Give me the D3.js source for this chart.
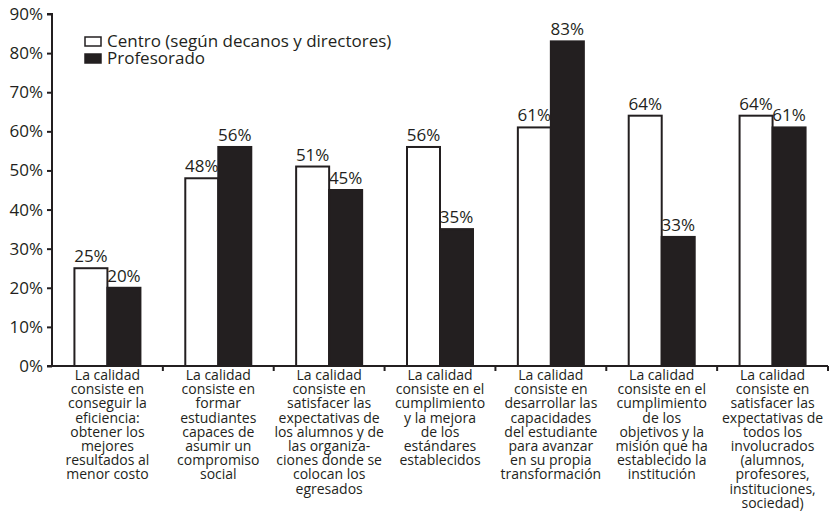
<!DOCTYPE html>
<html>
<head>
<meta charset="utf-8">
<script src="https://cdn.jsdelivr.net/npm/d3@7/dist/d3.min.js"></script>
<style>
  html, body { margin: 0; padding: 0; background: #fff; }
  svg { display: block; font-family: "Open Sans", "Noto Sans", sans-serif; }
</style>
</head>
<body>
<svg id="chart" width="834" height="515"></svg>
<script>
// Category labels, one entry per line as set in the figure
const categories = [
  ["La calidad", "consiste en", "conseguir la", "eficiencia:", "obtener los", "mejores", "resultados al", "menor costo"],
  ["La calidad", "consiste en", "formar", "estudiantes", "capaces de", "asumir un", "compromiso", "social"],
  ["La calidad", "consiste en", "satisfacer las", "expectativas de", "los alumnos y de", "las organiza-", "ciones donde se", "colocan los", "egresados"],
  ["La calidad", "consiste en el", "cumplimiento", "y la mejora", "de los", "estándares", "establecidos"],
  ["La calidad", "consiste en", "desarrollar las", "capacidades", "del estudiante", "para avanzar", "en su propia", "transformación"],
  ["La calidad", "consiste en el", "cumplimiento", "de los", "objetivos y la", "misión que ha", "establecido la", "institución"],
  ["La calidad", "consiste en", "satisfacer las", "expectativas de", "todos los", "involucrados", "(alumnos,", "profesores,", "instituciones,", "sociedad)"]
];
const seriesNames = ["Centro (según decanos y directores)", "Profesorado"];
const centro = [25, 48, 51, 56, 61, 64, 64];
const profesorado = [20, 56, 45, 35, 83, 33, 61];
const yTicks = [0, 10, 20, 30, 40, 50, 60, 70, 80, 90];

const svg = d3.select("#chart");
const margin = { left: 52, right: 6, top: 14, bottom: 149 };
const W = 834, H = 515;
const dark = "#231f20";

const x = d3.scaleBand()
  .domain(d3.range(categories.length))
  .range([margin.left, W - margin.right])
  .paddingInner(0).paddingOuter(0);

const y = d3.scaleLinear().domain([0, 90]).range([H - margin.bottom, margin.top]);

const barW = 33;
const series = [
  { name: seriesNames[0], values: centro, fill: "#fff", offset: -barW },
  { name: seriesNames[1], values: profesorado, fill: dark, offset: 0 }
];

// Bars and their value labels
series.forEach(s => {
  svg.append("g").selectAll("rect")
    .data(s.values)
    .join("rect")
    .attr("x", (d, i) => x(i) + x.bandwidth() / 2 + s.offset)
    .attr("y", d => y(d))
    .attr("width", barW)
    .attr("height", d => y(0) - y(d))
    .attr("fill", s.fill)
    .attr("stroke", dark)
    .attr("stroke-width", 2);

  svg.append("g").selectAll("text")
    .data(s.values)
    .join("text")
    .attr("x", (d, i) => x(i) + x.bandwidth() / 2 + s.offset + barW / 2)
    .attr("y", d => y(d) - 6)
    .attr("text-anchor", "middle")
    .attr("font-size", 17)
    .attr("fill", dark)
    .text(d => d + "%");
});

// Y axis
const yAxis = svg.append("g")
  .attr("transform", `translate(${margin.left},0)`)
  .call(d3.axisLeft(y).tickValues(yTicks).tickSize(5).tickPadding(4).tickFormat(d => d + "%"));
yAxis.select(".domain").attr("stroke", dark).attr("stroke-width", 2).attr("d", `M-5,${y(90)}H0V${y(0)}`);
yAxis.selectAll(".tick line").attr("stroke", dark).attr("stroke-width", 2);
yAxis.selectAll(".tick text").attr("font-size", 17).attr("fill", dark)
  .attr("font-family", "'Open Sans', 'Noto Sans', sans-serif");

// X axis baseline with ticks at category boundaries
const xAxisG = svg.append("g");
xAxisG.append("line")
  .attr("x1", margin.left - 5).attr("x2", W - margin.right)
  .attr("y1", y(0)).attr("y2", y(0))
  .attr("stroke", dark).attr("stroke-width", 2);
xAxisG.selectAll("line.tk")
  .data(d3.range(1, categories.length + 1))
  .join("line")
  .attr("class", "tk")
  .attr("x1", i => x(i - 1) + x.bandwidth()).attr("x2", i => x(i - 1) + x.bandwidth())
  .attr("y1", y(0)).attr("y2", y(0) + 5)
  .attr("stroke", dark).attr("stroke-width", 2);

// Category labels
const lineGap = 14.2;
categories.forEach((lines, i) => {
  const cx = x(i) + x.bandwidth() / 2;
  svg.append("g").selectAll("text")
    .data(lines)
    .join("text")
    .attr("x", cx)
    .attr("y", (ln, k) => y(0) + 14 + k * lineGap)
    .attr("text-anchor", "middle")
    .attr("font-size", 14)
    .attr("fill", dark)
    .text(ln => ln);
});

// Legend
const legend = svg.append("g").attr("transform", "translate(85,37)");
series.forEach((s, k) => {
  const g = legend.append("g").attr("transform", `translate(0,${k * 17})`);
  g.append("rect").attr("x", 0).attr("y", 0).attr("width", 16).attr("height", 9)
    .attr("fill", s.fill).attr("stroke", dark).attr("stroke-width", 1.5);
  g.append("text").attr("x", 22).attr("y", 9.5).attr("font-size", 17).attr("fill", dark).text(s.name);
});
</script>
</body>
</html>
